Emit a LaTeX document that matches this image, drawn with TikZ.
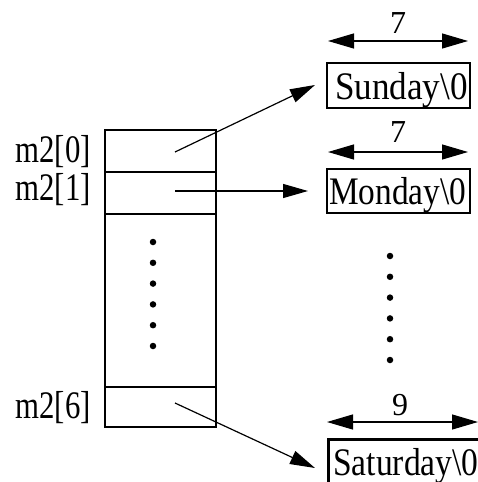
\documentclass[tikz,border=0pt]{standalone}
\usepackage{fontspec}
\setmainfont{Liberation Serif}
\usetikzlibrary{arrows.meta}
\newcommand{\hsq}[2]{\scalebox{#1}[1]{#2}}
\begin{document}
\begin{tikzpicture}[x=1pt,y=-1pt,
  txt/.style={font=\fontsize{39}{46}\selectfont, inner sep=0pt},
  lbl/.style={font=\fontsize{39}{46}\selectfont, inner sep=0pt, anchor=base east},
  num/.style={font=\fontsize{32}{38}\selectfont, inner sep=0pt},
  cell/.style={draw, line width=1.2pt, minimum width=111pt, inner sep=0pt},
  strbox/.style={draw, line width=2.5pt, inner sep=0pt},
  ptr/.style={line width=1.2pt, -{Triangle[length=25pt,width=14pt]}},
  dim/.style={line width=1.2pt, {Triangle[length=26pt,width=15pt]}-{Triangle[length=26pt,width=15pt]}},
  dotm/.style={circle, fill, inner sep=0pt, minimum size=6.5pt}]
\useasboundingbox (0,0) rectangle (478,482);
% array cells
\node[cell, minimum height=42pt] (c0) at (160.5,151) {};
\node[cell, minimum height=42pt] (c1) at (160.5,193) {};
\node[cell, minimum height=173pt] (cm) at (160.5,300.5) {};
\node[cell, minimum height=40pt] (c6) at (160.5,407) {};
% labels
\node[lbl] (l0) at (91,162) {\hsq{0.79}{m2[0]}};
\node[lbl] (l1) at (91,200) {\hsq{0.79}{m2[1]}};
\node[lbl] (l6) at (91,418) {\hsq{0.79}{m2[6]}};
% dots
\foreach \k in {0,...,5} {
  \node[dotm] (ld\k) at (153,{242+20.8*\k}) {};
  \node[dotm] (rd\k) at (390,{256+20.8*\k}) {};
}
% strings
\node[strbox, minimum width=143pt, minimum height=45pt] (sun) at (398.5,85.5) {};
\node[txt, anchor=base west] (sunt) at (335,99) {\hsq{0.90}{Sunday\textbackslash 0}};
\node[strbox, minimum width=143pt, minimum height=44pt] (mon) at (398.5,191) {};
\node[txt, anchor=base west] (mont) at (329,204) {\hsq{0.855}{Monday\textbackslash 0}};
\node[strbox, anchor=north west, minimum width=170pt, minimum height=50pt] (sat) at (327,438) {};
\node[txt, anchor=base west] (satt) at (333,475) {\hsq{0.86}{Saturday\textbackslash 0}};
% dimension arrows
\coordinate (s0l) at (328,41); \coordinate (s0r) at (468,41);
\coordinate (s1l) at (328,152); \coordinate (s1r) at (468,152);
\coordinate (s6l) at (327,422); \coordinate (s6r) at (478,422);
\draw[dim] (s0l) -- (s0r);
\draw[dim] (s1l) -- (s1r);
\draw[dim] (s6l) -- (s6r);
\node[num, anchor=base] (n0) at (398,33) {7};
\node[num, anchor=base] (n1) at (398,142) {7};
\node[num, anchor=base] (n6) at (400,415) {9};
% pointers
\coordinate (p0) at (175,152); \coordinate (t0) at (315,85);
\coordinate (p1) at (175,191); \coordinate (t1) at (308,191);
\coordinate (p6) at (175,403); \coordinate (t6) at (315,468);
\draw[ptr] (p0) -- (t0);
\draw[ptr] (p1) -- (t1);
\draw[ptr] (p6) -- (t6);
\end{tikzpicture}
\end{document}
